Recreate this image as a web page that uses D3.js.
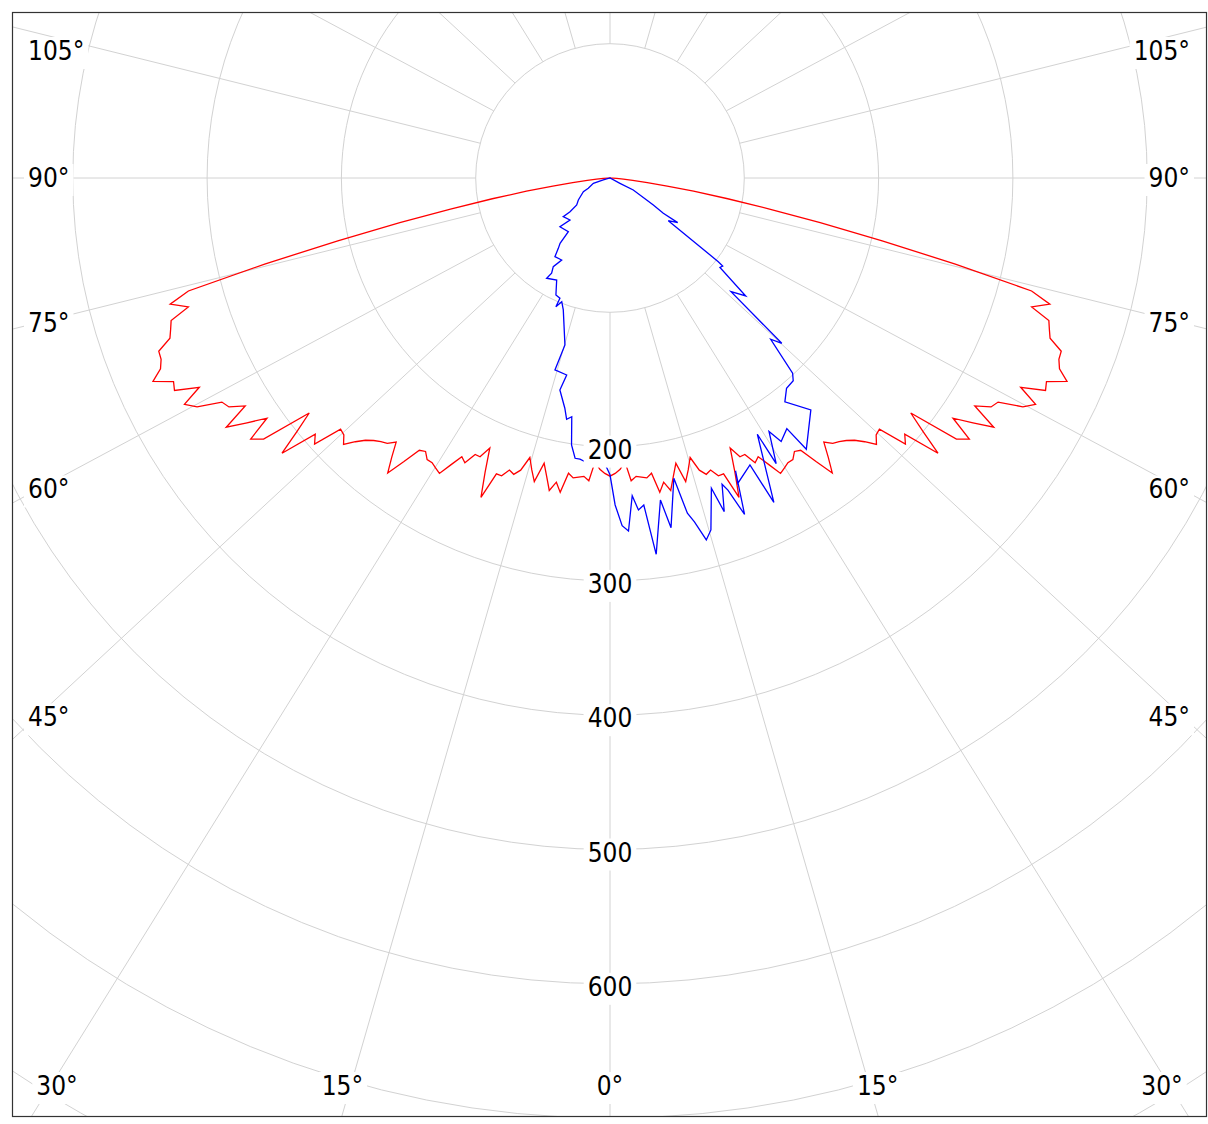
<!DOCTYPE html>
<html>
<head>
<meta charset="utf-8">
<script src="https://cdn.jsdelivr.net/npm/d3@7"></script>
<style>
  html, body { margin: 0; padding: 0; background: #fff; }
  svg { display: block; }
  text { font-family: "DejaVu Sans Condensed", "DejaVu Sans", Verdana, sans-serif; font-stretch: condensed; }
</style>
</head>
<body>
<svg id="chart" width="1208" height="1124"></svg>
<script>
// ---------- data ----------
const ringValues = [100, 200, 300, 400, 500, 600, 700, 800, 900];
const ringLabels = [200, 300, 400, 500, 600];
const spokeAngles = [0, 15, 30, 45, 60, 75, 90, 105, 120, 135, 150, 165, 180, 195, 210, 225, 240, 255, 270, 285, 300, 315, 330, 345];
const angleLabels = [0, 15, 30, 45, 60, 75, 90, 105];

// red series: angle (deg, 0 = down, + = right) and intensity
const redAngles = [
 -90,-89,-88,-87,-86,-85,-84,-83,-82,-81,-80,-79,-78,-77,-76,-75,-74,-73,-72,-71,
 -70,-69,-68,-67,-66,-65,-64,-63,-62,-61,-60,-59,-58,-57,-56,-55,-54,-53,-52,-51,
 -50,-49,-48,-47,-46,-45,-44,-43,-42,-41,-40,-39,-38,-37,-36,-35,-34,-33,-32,-31,
 -30,-29,-28,-27,-26,-25,-24,-23,-22,-21,-20,-19,-18,-17,-16,-15,-14,-13,-12,-11,
 -10,-9,-8,-7,-6,-5,-4,-3,-2,-1,0,1,2,3,4,5,6,7,8,9,
 10,11,12,13,14,15,16,17,18,19,20,21,22,23,24,25,26,27,28,29,
 30,31,32,33,34,35,36,37,38,39,40,41,42,43,44,45,46,47,48,49,
 50,51,52,53,54,55,56,57,58,59,60,61,62,63,64,65,66,67,68,69,
 70,71,72,73,74,75,76,77,78,79,80,81,82,83,84,85,86,87,88,89,90];
const redValues = [
 0,0.2,0.8,2,5,10,17,28,43,63,89,121,160,208,265,325,340.7,328.3,343.6,346,
 348.7,359.9,360.5,363.6,372.5,358.6,360.8,343.2,358.9,351.5,333.7,331,320.3,340.7,326,311.8,330.7,323,284.2,300,
 318.8,290.8,296,274.3,275.5,280.6,273,267,263,260,258,253,264,275,261,247.5,245.6,250,250,252,
 254,244,235,238,229,229,220,238,256.5,236,236,230,232,227.5,216.5,225,233,218,227,237,
 230,237,222,225,224,223,226,211.5,217,220,222,220,217,211.5,226,223,224,225,222,237,
 230,237,227,218,233,225,216.5,227.5,232,230,236,236,256.5,238,220,229,229,238,235,244,
 254,252,250,250,245.6,247.5,261,275,264,253,258,260,263,267,273,280.6,275.5,274.3,296,290.8,
 318.8,300,284.2,323,330.7,311.8,326,340.7,320.3,331,333.7,351.5,358.9,343.2,360.8,358.6,372.5,363.6,360.5,359.9,
 348.7,346,343.6,328.3,340.7,325,265,208,160,121,89,63,43,28,17,10,5,2,0.8,0.2,0];

// blue series: measured points in drawing order (angle deg, intensity)
const blueAngles = [
 -1.4,0,0.9,2.0,3.0,4.0,4.9,5.9,7.0,8.9,9.9,12.0,13.0,13.8,14.9,16.0,18.1,18.9,20.1,20.7,
 21.8,23.2,22.7,26.0,26.8,29.9,30.2,32.1,33.0,35.2,35.9,40.9,38.0,40.0,42.1,43.1,44.9,46.1,46.8,49.0,
 50.9,52.0,52.3,53.8,56.6,56.5,58.1,62.7,62,90,
 -90,-73.4,-72.4,-64.6,-62.8,-55.2,-51,-49.9,-50.4,-43.6,-45.8,-37.8,-37.4,-36.3,-35,-30.5,-32.6,-31.5,-32.3,-27.6,
 -24.8,-22.6,-22.8,-21.3,-19.5,-15.1,-16,-12.4,-13.3,-11.1,-10.2,-9.1,-8.2,-7.1,-6.1,-5.0];
const blueValues = [
 210,221,243.5,259,263.2,237.1,248.1,244.8,282.3,242.7,264.3,228.6,256.2,263.6,278.9,272.6,243,262.6,242.8,248.4,
 269.8,237.3,246.5,237.7,270.6,220.1,246,222.8,234,228.4,249.3,228.4,211.5,204.5,203.5,199,169.5,177.5,123.6,133.9,
 105.5,106.5,101.9,53.8,60.4,47.6,38,19.5,8.4,0,
 0,5.2,13,17.9,22.3,28.7,31.9,38.9,45.2,43.2,52,50.6,61.2,65,71.5,70.9,78.4,83.2,88.3,85.7,
 96,97,104,98.9,104.2,128.8,148.7,150.2,162.2,174.7,182.5,180,200.8,210.3,210.6,212.1];

// ---------- layout ----------
const W = 1208, H = 1124;
const box = { x0: 12, y0: 12, x1: 1207, y1: 1117 };
const cx = 610, cy = 178;
const rScale = d3.scaleLinear().domain([0, 100]).range([0, 134.3]);
const rad = d => d * Math.PI / 180;
const gridColor = "#d2d2d2";

const svg = d3.select("#chart");
svg.append("rect").attr("width", W).attr("height", H).attr("fill", "#fff");

svg.append("defs").append("clipPath").attr("id", "plotClip")
  .append("rect").attr("x", box.x0).attr("y", box.y0)
  .attr("width", box.x1 - box.x0).attr("height", box.y1 - box.y0);

const plot = svg.append("g").attr("clip-path", "url(#plotClip)");
const center = plot.append("g").attr("transform", `translate(${cx},${cy})`);

// rings
center.selectAll("circle.ring").data(ringValues).join("circle")
  .attr("class", "ring")
  .attr("r", d => rScale(d))
  .attr("fill", "none").attr("stroke", gridColor).attr("stroke-width", 1);

// spokes (start at the inner ring)
const stretch = 1.07, farR = 1400;
center.selectAll("line.spoke").data(spokeAngles).join("line")
  .attr("class", "spoke")
  .attr("x1", d => rScale(100) * Math.sin(rad(d)))
  .attr("y1", d => rScale(100) * Math.cos(rad(d)))
  .attr("x2", d => stretch * farR * Math.sin(rad(d)))
  .attr("y2", d => farR * Math.cos(rad(d)))
  .attr("stroke", gridColor).attr("stroke-width", 1);

// label helper with white background
const labelLayer = plot.append("g");
function addLabel(x, y, txt, anchor) {
  const g = labelLayer.append("g");
  const bg = g.append("rect").attr("fill", "#fff");
  const t = g.append("text")
    .attr("x", x).attr("y", y)
    .attr("text-anchor", anchor)
    .attr("dominant-baseline", "central")
    .attr("font-size", 26)
    .attr("fill", "#000")
    .text(txt);
  const bb = t.node().getBBox();
  bg.attr("x", bb.x - 4).attr("y", bb.y + 1).attr("width", bb.width + 8).attr("height", bb.height + 2);
}

// radial labels along the 0° spoke
ringLabels.forEach(v => addLabel(cx, cy + rScale(v) + 3, String(v), "middle"));

// angle labels
angleLabels.forEach(a => {
  const sides = a === 0 ? [1] : [-1, 1];
  sides.forEach(s => {
    if (a <= 30) {
      const y = box.y1 - 31;
      let x = cx + s * (y - cy) * Math.tan(rad(a)) * 1.1;
      x = Math.max(box.x0 + 45, Math.min(box.x1 - 45, x));
      addLabel(x, y, a + "°", "middle");
    } else {
      const cot = Math.cos(rad(a)) / Math.sin(rad(a));
      let y = cy + (cx - box.x0 - 37) * cot / 1.04;
      y = Math.max(box.y0 + 39, y);
      const x = s < 0 ? box.x0 + 16 : box.x1 - 17;
      addLabel(x, y, a + "°", s < 0 ? "start" : "end");
    }
  });
});

// data lines
const radial = d3.lineRadial()
  .angle(d => Math.PI - rad(d[0]))
  .radius(d => rScale(d[1]));

const redPts = redAngles.map((a, i) => [a, redValues[i]]);
const bluePts = blueAngles.map((a, i) => [a, blueValues[i]]);

center.append("path").datum(redPts)
  .attr("d", radial).attr("fill", "none")
  .attr("stroke", "#ff0000").attr("stroke-width", 1.3).attr("stroke-linejoin", "miter");

center.append("path").datum(bluePts)
  .attr("d", radial).attr("fill", "none")
  .attr("stroke", "#0000ff").attr("stroke-width", 1.3).attr("stroke-linejoin", "miter");

// frame
svg.append("rect")
  .attr("x", box.x0 + 0.5).attr("y", box.y0 + 0.5)
  .attr("width", box.x1 - box.x0 - 1).attr("height", box.y1 - box.y0 - 1)
  .attr("fill", "none").attr("stroke", "#333").attr("stroke-width", 1.2);
</script>
</body>
</html>
